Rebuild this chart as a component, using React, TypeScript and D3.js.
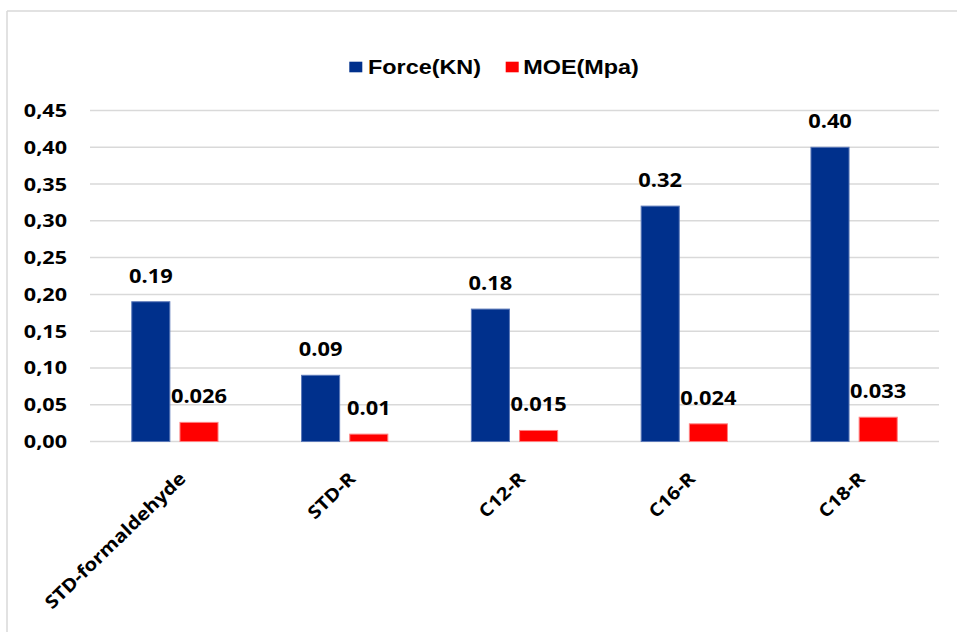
import React from "react";
import * as d3 from "d3";

const categories = ["STD-formaldehyde", "STD-R", "C12-R", "C16-R", "C18-R"];
const seriesNames = ["Force(KN)", "MOE(Mpa)"];
const forceValues = [0.19, 0.09, 0.18, 0.32, 0.4];
const moeValues = [0.026, 0.01, 0.015, 0.024, 0.033];
const forceLabels = ["0.19", "0.09", "0.18", "0.32", "0.40"];
const moeLabels = ["0.026", "0.01", "0.015", "0.024", "0.033"];
const yTicks = [0, 0.05, 0.1, 0.15, 0.2, 0.25, 0.3, 0.35, 0.4, 0.45];
const colors = ["#00308c", "#ff0000"];
const strokes = ["#5b78b8", "#ff8080"];

const W = 957;
const H = 632;
const SX = 1.2;

export default function App() {
  const x0 = d3
    .scaleBand<string>()
    .domain(categories)
    .range([90, 939])
    .paddingInner(0.492)
    .paddingOuter(0.246);
  const x1 = d3
    .scaleBand<string>()
    .domain(seriesNames)
    .range([0, x0.bandwidth()])
    .paddingInner(0.21);
  const y = d3.scaleLinear().domain([0, 0.45]).range([441.5, 110.5]);

  const series = [
    { name: seriesNames[0], values: forceValues, labels: forceLabels },
    { name: seriesNames[1], values: moeValues, labels: moeLabels },
  ];

  const labelFont = "'Open Sans', sans-serif";
  const fmt = (v: number) => d3.format(".2f")(v).replace(".", ",");

  return (
    <svg
      width={W}
      height={H}
      style={{ position: "absolute", left: 0, top: 0, background: "#fff" }}
    >
      <rect x={0} y={0} width={W} height={H} fill="#fff" />
      {/* frame */}
      <line x1={7} y1={11} x2={W} y2={11} stroke="#d9d9d9" strokeWidth={1.5} />
      <line x1={7} y1={11} x2={7} y2={H} stroke="#d9d9d9" strokeWidth={1.5} />

      {/* gridlines */}
      {yTicks.map((t) => (
        <line
          key={"g" + t}
          x1={90}
          x2={939}
          y1={y(t)}
          y2={y(t)}
          stroke="#d9d9d9"
          strokeWidth={1.5}
        />
      ))}

      {/* y tick labels */}
      {yTicks.map((t) => (
        <text
          key={"yt" + t}
          transform={`translate(67,${y(t) + 6.5}) scale(${SX},1)`}
          textAnchor="end"
          fontFamily={labelFont}
          fontWeight={700}
          fontSize={18}
          fill="#000"
        >
          {fmt(t)}
        </text>
      ))}

      {/* bars */}
      {categories.map((c, i) => (
        <g key={c}>
          {series.map((s, k) => {
            const bx = (x0(c) as number) + (x1(s.name) as number);
            const by = y(s.values[i]);
            return (
              <g key={s.name}>
                <rect
                  x={bx}
                  y={by}
                  width={x1.bandwidth()}
                  height={y(0) - by}
                  fill={colors[k]}
                  stroke={strokes[k]}
                  strokeWidth={1}
                />
                <text
                  transform={`translate(${bx + x1.bandwidth() / 2},${by - 19}) scale(1.15,1)`}
                  textAnchor="middle"
                  fontFamily={labelFont}
                  fontWeight={700}
                  fontSize={19}
                  fill="#000"
                >
                  {s.labels[i]}
                </text>
              </g>
            );
          })}
        </g>
      ))}

      {/* x labels */}
      {categories.map((c) => {
        const cx = (x0(c) as number) + x0.bandwidth() / 2;
        return (
          <text
            key={"xl" + c}
            transform={`translate(${cx + 12},${480}) rotate(-44) scale(1.13,1)`}
            textAnchor="end"
            fontFamily={labelFont}
            fontWeight={700}
            fontSize={18}
            fill="#000"
          >
            {c}
          </text>
        );
      })}

      {/* legend */}
      {[
        { name: seriesNames[0], sx: 349.3, tx: 368 },
        { name: seriesNames[1], sx: 505.7, tx: 523.3 },
      ].map((l, k) => (
        <g key={"lg" + l.name}>
          <rect x={l.sx} y={61.7} width={13} height={10.6} fill={colors[k]} />
          <text
            transform={`translate(${l.tx},73.5) scale(${SX},1)`}
            fontFamily="'Liberation Sans', Arial, sans-serif"
            fontWeight={700}
            fontSize={19.5}
            fill="#000"
          >
            {l.name}
          </text>
        </g>
      ))}
    </svg>
  );
}
